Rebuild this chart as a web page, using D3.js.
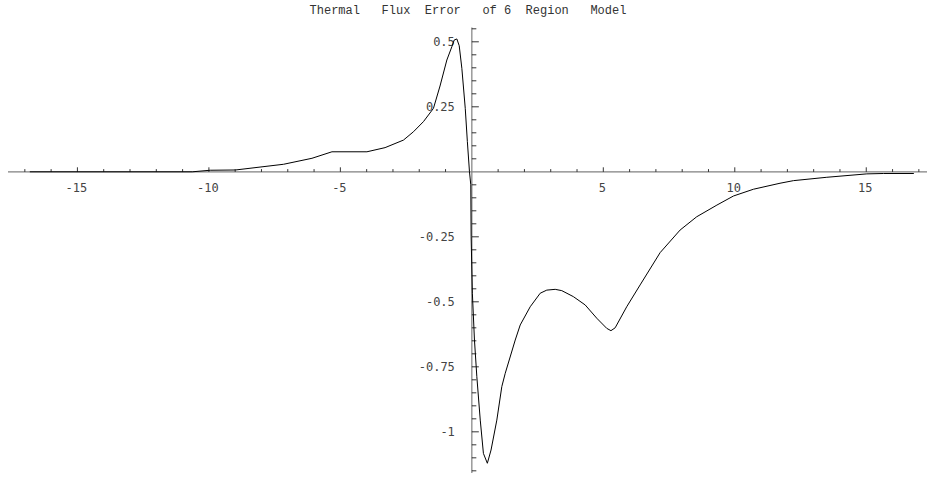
<!DOCTYPE html>
<html>
<head>
<meta charset="utf-8">
<script src="https://cdn.jsdelivr.net/npm/d3@7"></script>
<style>
  body { margin: 0; background: #fff; }
  svg { display: block; }
</style>
</head>
<body>
<svg id="chart" width="928" height="477"></svg>
<script>
// curve: x position and flux error
var xs = [-16.81, -10.63, -9.95, -8.99, -7.16, -6.08, -5.32, -3.99, -3.30, -2.60, -2.22, -1.84, -1.46, -1.21,
          -0.95, -0.76, -0.67, -0.57, -0.48, -0.38, -0.25, -0.17, -0.09, -0.04, -0.027, 0.02, 0.10, 0.19, 0.32,
          0.44, 0.59, 0.73, 0.95, 1.14, 1.27, 1.65, 1.84, 2.22, 2.60, 2.85, 3.17, 3.42, 3.86, 4.31, 4.75,
          5.13, 5.29, 5.45, 5.89, 6.40, 7.16, 7.92, 8.55, 9.32, 9.95, 10.71, 11.72, 12.23, 13.50, 15.02,
          15.65, 16.81];
var ys = [0, 0, 0.006, 0.007, 0.029, 0.052, 0.077, 0.077, 0.093, 0.122, 0.154, 0.193, 0.244, 0.330,
          0.430, 0.481, 0.507, 0.511, 0.485, 0.398, 0.244, 0.116, 0, -0.05, -0.25, -0.467, -0.647, -0.788, -0.955,
          -1.083, -1.121, -1.07, -0.955, -0.826, -0.775, -0.647, -0.589, -0.519, -0.467, -0.455, -0.452, -0.457, -0.480, -0.512, -0.563,
          -0.602, -0.611, -0.600, -0.519, -0.435, -0.311, -0.224, -0.173, -0.128, -0.093, -0.067, -0.044, -0.034, -0.021, -0.008,
          -0.0065, -0.0065];

var xMajor = [-15, -10, -5, 5, 10, 15];
var xMinor = d3.range(-17, 18).filter(function(v){ return v % 5 !== 0; });
var yMajor = [-1, -0.75, -0.5, -0.25, 0.25, 0.5];
var yLabels = ["-1", "-0.75", "-0.5", "-0.25", "0.25", "0.5"];
var yMinor = d3.range(-23, 12).map(function(k){ return k * 0.05; })
               .filter(function(v){ return Math.abs(v / 0.25 - Math.round(v / 0.25)) > 1e-6; });
var title = "Thermal   Flux  Error   of 6  Region   Model";

var svg = d3.select("#chart");

var x = d3.scaleLinear().domain([-17.64, 17.31]).range([8, 927]);
var y = d3.scaleLinear().domain([-1.158, 0.555]).range([472.9, 27.5]);

var x0 = x(0), y0 = y(0);

// axes lines
svg.append("line")
    .attr("x1", x.range()[0]).attr("x2", x.range()[1])
    .attr("y1", y0).attr("y2", y0)
    .attr("stroke", "#808080").attr("stroke-width", 1.2);
svg.append("line")
    .attr("x1", x0).attr("x2", x0)
    .attr("y1", y.range()[0]).attr("y2", y.range()[1])
    .attr("stroke", "#808080").attr("stroke-width", 1.2);

// x ticks go up from the axis
svg.selectAll(".xminor").data(xMinor).enter().append("line")
    .attr("x1", function(d){ return x(d); }).attr("x2", function(d){ return x(d); })
    .attr("y1", y0).attr("y2", y0 - 2.7)
    .attr("stroke", "#000").attr("stroke-width", 0.8);
svg.selectAll(".xmajor").data(xMajor).enter().append("line")
    .attr("x1", function(d){ return x(d); }).attr("x2", function(d){ return x(d); })
    .attr("y1", y0).attr("y2", y0 - 4.5)
    .attr("stroke", "#000").attr("stroke-width", 0.8);

// y ticks go right from the axis
svg.selectAll(".yminor").data(yMinor).enter().append("line")
    .attr("x1", x0).attr("x2", x0 + 4.5)
    .attr("y1", function(d){ return y(d); }).attr("y2", function(d){ return y(d); })
    .attr("stroke", "#000").attr("stroke-width", 0.8);
svg.selectAll(".ymajor").data(yMajor).enter().append("line")
    .attr("x1", x0).attr("x2", x0 + 7)
    .attr("y1", function(d){ return y(d); }).attr("y2", function(d){ return y(d); })
    .attr("stroke", "#000").attr("stroke-width", 0.8);

var labelFont = "'DejaVu Sans Mono', monospace";

svg.selectAll(".xlab").data(xMajor).enter().append("text")
    .attr("x", function(d){ return x(d) - 1; })
    .attr("y", y0 + 20)
    .attr("text-anchor", "middle")
    .attr("font-family", labelFont).attr("font-size", 12)
    .attr("fill", "#444")
    .text(function(d){ return d; });

svg.selectAll(".ylab").data(yMajor).enter().append("text")
    .attr("x", x0 - 17)
    .attr("y", function(d){ return y(d); })
    .attr("dy", "0.35em")
    .attr("text-anchor", "end")
    .attr("font-family", labelFont).attr("font-size", 12)
    .attr("fill", "#444")
    .text(function(d, i){ return yLabels[i]; });

// curve
var pts = xs.map(function(v, i){ return [v, ys[i]]; });
var line = d3.line()
    .x(function(d){ return x(d[0]); })
    .y(function(d){ return y(d[1]); });
svg.append("path")
    .datum(pts)
    .attr("d", line)
    .attr("fill", "none")
    .attr("stroke", "#000")
    .attr("stroke-width", 1);

// title
svg.append("text")
    .attr("x", 468).attr("y", 14)
    .attr("text-anchor", "middle")
    .attr("font-family", "'Liberation Mono', 'Courier New', monospace")
    .attr("font-size", 12)
    .style("white-space", "pre")
    .attr("fill", "#333")
    .text(title);
</script>
</body>
</html>
